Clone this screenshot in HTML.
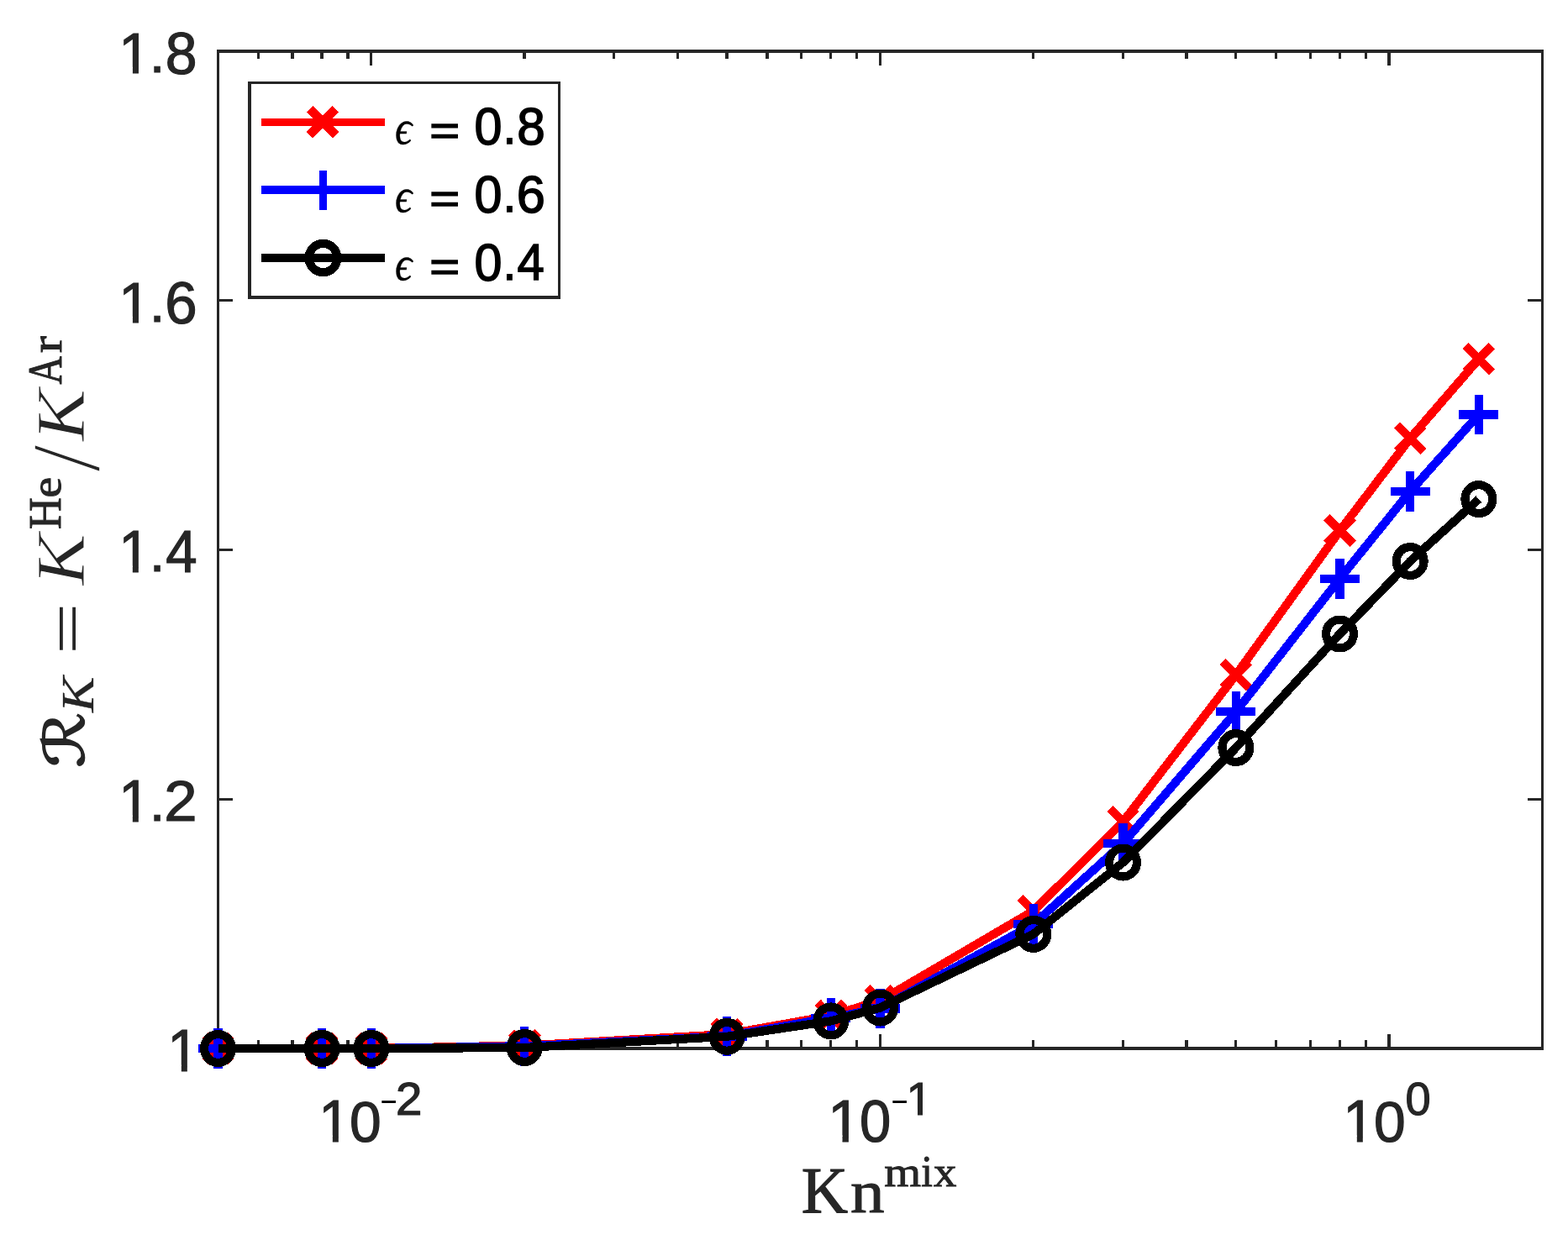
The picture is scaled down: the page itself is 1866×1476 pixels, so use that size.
<!DOCTYPE html>
<html lang="en">
<head>
<meta charset="utf-8">
<title>Permeability ratio vs Knudsen number</title>
<style>
html,body{margin:0;padding:0;background:#ffffff;}
body{width:1866px;height:1476px;overflow:hidden;}
svg{display:block;}
</style>
</head>
<body>
<svg width="1866" height="1476" viewBox="0 0 1866 1476">
<rect x="0" y="0" width="1866" height="1476" fill="#ffffff"/>
<defs><clipPath id="c0"><path d="M135.25 17.99H164.96V89.55H157.92V79.63H135.25Z"/><rect x="181.5" y="75.0" width="12.0" height="16.0"/><rect x="197.5" y="34.8" width="37.1" height="58.2"/></clipPath><clipPath id="c1"><path d="M135.25 314.99H164.96V386.55H157.92V376.63H135.25Z"/><rect x="181.5" y="372.0" width="12.0" height="16.0"/><rect x="197.5" y="331.8" width="37.1" height="58.2"/></clipPath><clipPath id="c2"><path d="M135.21 610.54H164.82V683.55H157.84V673.52H135.21Z"/><rect x="181.5" y="669.0" width="12.0" height="16.0"/><rect x="196.5" y="628.0" width="39.1" height="57.0"/></clipPath><clipPath id="c3"><path d="M135.21 907.54H164.82V980.55H157.84V970.52H135.21Z"/><rect x="181.5" y="966.0" width="12.0" height="16.0"/><rect x="196.5" y="924.9" width="38.1" height="57.1"/></clipPath><clipPath id="c4"><path d="M193.21 1204.54H222.82V1277.55H215.84V1267.52H193.21Z"/></clipPath><clipPath id="c5"><path d="M373.21 1288.54H402.82V1361.55H395.84V1351.52H373.21Z"/><rect x="416.5" y="1306.0" width="38.0" height="58.0"/><rect x="452.5" y="1306.0" width="21.0" height="11.0"/><rect x="471.5" y="1284.0" width="31.1" height="47.0"/></clipPath><clipPath id="c6"><path d="M979.00 1288.54H1009.89V1361.55H1002.53V1351.52H979.00Z"/><rect x="1023.5" y="1306.0" width="37.1" height="58.0"/><rect x="1060.5" y="1306.0" width="21.0" height="11.0"/><path d="M1072.48 1271.06H1097.98V1329.55H1092.03V1320.60H1072.48Z"/></clipPath><clipPath id="c7"><path d="M1592.21 1288.54H1621.82V1361.55H1614.84V1351.52H1592.21Z"/><rect x="1635.5" y="1306.0" width="38.0" height="58.0"/><rect x="1672.5" y="1284.0" width="31.1" height="48.0"/></clipPath></defs>
<path d="M258 59H261V1250H258ZM1834 59H1837V1250H1834ZM258 59H1837V63H258ZM258 1246H1837V1250H258ZM306 1238H309V1248H306ZM306 61H309V70H306ZM346 1238H350V1248H346ZM346 61H350V70H346ZM381 1238H385V1248H381ZM381 61H385V70H381ZM412 1238H416V1248H412ZM412 61H416V70H412ZM440 1231H443V1248H440ZM440 61H443V78H440ZM622 1238H626V1248H622ZM622 61H626V70H622ZM729 1238H732V1248H729ZM729 61H732V70H729ZM805 1238H808V1248H805ZM805 61H808V70H805ZM863 1238H867V1248H863ZM863 61H867V70H863ZM911 1238H915V1248H911ZM911 61H915V70H911ZM952 1238H955V1248H952ZM952 61H955V70H952ZM987 1238H990V1248H987ZM987 61H990V70H987ZM1018 1238H1021V1248H1018ZM1018 61H1021V70H1018ZM1046 1231H1049V1248H1046ZM1046 61H1049V78H1046ZM1228 1238H1231V1248H1228ZM1228 61H1231V70H1228ZM1335 1238H1338V1248H1335ZM1335 61H1338V70H1335ZM1410 1238H1414V1248H1410ZM1410 61H1414V70H1410ZM1469 1238H1472V1248H1469ZM1469 61H1472V70H1469ZM1517 1238H1520V1248H1517ZM1517 61H1520V70H1517ZM1558 1238H1561V1248H1558ZM1558 61H1561V70H1558ZM1593 1238H1596V1248H1593ZM1593 61H1596V70H1593ZM1624 1238H1627V1248H1624ZM1624 61H1627V70H1624ZM1651 1231H1655V1248H1651ZM1651 61H1655V78H1651ZM259 950H277V953H259ZM1818 950H1836V953H1818ZM259 653H277V656H259ZM1818 653H1836V656H1818ZM259 356H277V359H259ZM1818 356H1836V359H1818Z" fill="#262626" shape-rendering="crispEdges"/>
<text clip-path="url(#c0)" font-family="'Liberation Sans', sans-serif" fill="#262626"><tspan x="141.25" y="86.55" font-size="68.56" textLength="37.99" lengthAdjust="spacingAndGlyphs" stroke="#262626" stroke-width="1.2">1</tspan><tspan x="178.00" y="86.02" font-size="62.47" textLength="18.13" lengthAdjust="spacingAndGlyphs" stroke="#262626" stroke-width="1.2">.</tspan><tspan x="196.77" y="88.00" font-size="70.18" textLength="37.78" lengthAdjust="spacingAndGlyphs" stroke="#262626" stroke-width="1.2">8</tspan></text>
<text clip-path="url(#c1)" font-family="'Liberation Sans', sans-serif" fill="#262626"><tspan x="141.25" y="383.55" font-size="68.56" textLength="37.99" lengthAdjust="spacingAndGlyphs" stroke="#262626" stroke-width="1.2">1</tspan><tspan x="178.00" y="383.02" font-size="62.47" textLength="18.13" lengthAdjust="spacingAndGlyphs" stroke="#262626" stroke-width="1.2">.</tspan><tspan x="196.13" y="385.00" font-size="69.93" textLength="38.40" lengthAdjust="spacingAndGlyphs" stroke="#262626" stroke-width="1.2">6</tspan></text>
<text clip-path="url(#c2)" font-family="'Liberation Sans', sans-serif" fill="#262626"><tspan x="141.21" y="680.55" font-size="70.01" textLength="37.85" lengthAdjust="spacingAndGlyphs" stroke="#262626" stroke-width="1.2">1</tspan><tspan x="178.00" y="680.02" font-size="62.47" textLength="18.13" lengthAdjust="spacingAndGlyphs" stroke="#262626" stroke-width="1.2">.</tspan><tspan x="197.16" y="680.61" font-size="70.16" textLength="37.36" lengthAdjust="spacingAndGlyphs" stroke="#262626" stroke-width="1.2">4</tspan></text>
<text clip-path="url(#c3)" font-family="'Liberation Sans', sans-serif" fill="#262626"><tspan x="141.21" y="977.55" font-size="70.01" textLength="37.85" lengthAdjust="spacingAndGlyphs" stroke="#262626" stroke-width="1.2">1</tspan><tspan x="178.00" y="977.02" font-size="62.47" textLength="18.13" lengthAdjust="spacingAndGlyphs" stroke="#262626" stroke-width="1.2">.</tspan><tspan x="195.15" y="977.04" font-size="69.22" textLength="39.31" lengthAdjust="spacingAndGlyphs" stroke="#262626" stroke-width="1.2">2</tspan></text>
<text clip-path="url(#c4)" font-family="'Liberation Sans', sans-serif" fill="#262626"><tspan x="199.21" y="1274.55" font-size="70.01" textLength="37.85" lengthAdjust="spacingAndGlyphs" stroke="#262626" stroke-width="1.2">1</tspan></text>
<text clip-path="url(#c5)" font-family="'Liberation Sans', sans-serif" fill="#262626"><tspan x="379.21" y="1358.55" font-size="70.01" textLength="37.85" lengthAdjust="spacingAndGlyphs" stroke="#262626" stroke-width="1.2">1</tspan><tspan x="416.00" y="1359.00" font-size="69.33" textLength="37.70" lengthAdjust="spacingAndGlyphs" stroke="#262626" stroke-width="1.2">0</tspan><tspan x="451.32" y="1321.00" font-size="37.50" textLength="22.77" lengthAdjust="spacingAndGlyphs" fill="#000000">-</tspan><tspan x="471.00" y="1326.59" font-size="54.61" textLength="31.35" lengthAdjust="spacingAndGlyphs" stroke="#262626" stroke-width="1.2">2</tspan></text>
<text clip-path="url(#c6)" font-family="'Liberation Sans', sans-serif" fill="#262626"><tspan x="985.00" y="1358.55" font-size="70.01" textLength="39.90" lengthAdjust="spacingAndGlyphs" stroke="#262626" stroke-width="1.2">1</tspan><tspan x="1023.00" y="1359.00" font-size="70.06" textLength="37.27" lengthAdjust="spacingAndGlyphs" stroke="#262626" stroke-width="1.2">0</tspan><tspan x="1059.32" y="1321.00" font-size="37.50" textLength="22.77" lengthAdjust="spacingAndGlyphs" fill="#000000">-</tspan><tspan x="1078.48" y="1326.55" font-size="55.49" textLength="31.09" lengthAdjust="spacingAndGlyphs" stroke="#262626" stroke-width="1.2">1</tspan></text>
<text clip-path="url(#c7)" font-family="'Liberation Sans', sans-serif" fill="#262626"><tspan x="1598.21" y="1358.55" font-size="70.01" textLength="37.85" lengthAdjust="spacingAndGlyphs" stroke="#262626" stroke-width="1.2">1</tspan><tspan x="1635.00" y="1359.00" font-size="69.33" textLength="37.70" lengthAdjust="spacingAndGlyphs" stroke="#262626" stroke-width="1.2">0</tspan><tspan x="1672.44" y="1327.00" font-size="55.23" textLength="30.16" lengthAdjust="spacingAndGlyphs" stroke="#262626" stroke-width="1.2">0</tspan></text>
<text font-family="'Liberation Serif', serif" fill="#262626"><tspan x="953.77" y="1443.02" font-size="78.47" textLength="55.30" lengthAdjust="spacingAndGlyphs" stroke="#262626" stroke-width="1.2">K</tspan><tspan x="1012.04" y="1443.35" font-size="72.87" textLength="40.56" lengthAdjust="spacingAndGlyphs" stroke="#262626" stroke-width="1.0">n</tspan><tspan x="1052.28" y="1412.04" font-size="50.90" textLength="43.94" lengthAdjust="spacingAndGlyphs" stroke="#262626" stroke-width="0.9">m</tspan><tspan x="1096.36" y="1412.04" font-size="53.16" textLength="13.71" lengthAdjust="spacingAndGlyphs" stroke="#262626" stroke-width="0.9">i</tspan><tspan x="1110.90" y="1412.10" font-size="51.46" textLength="27.37" lengthAdjust="spacingAndGlyphs" stroke="#262626" stroke-width="0.9">x</tspan></text>
<text transform="rotate(-90)" font-family="'Liberation Serif', serif" fill="#262626"><tspan x="-913.56" y="99.55" font-size="66.56" textLength="65.81" lengthAdjust="spacingAndGlyphs" font-family="'DejaVu Sans', sans-serif" stroke="#262626" stroke-width="1.6">ℛ</tspan><tspan x="-848.00" y="110.61" font-size="55.95" textLength="42.45" lengthAdjust="spacingAndGlyphs" font-style="italic" stroke="#262626" stroke-width="0.3">K</tspan> <tspan x="-779.35" y="106.40" font-size="76.00" textLength="61.94" lengthAdjust="spacingAndGlyphs">=</tspan> <tspan x="-697.09" y="100.12" font-size="83.33" textLength="61.82" lengthAdjust="spacingAndGlyphs" font-style="italic" stroke="#ffffff" stroke-width="1.0" stroke-linejoin="round">K</tspan><tspan x="-630.10" y="71.95" font-size="54.45" textLength="37.89" lengthAdjust="spacingAndGlyphs" stroke="#262626" stroke-width="1.0">H</tspan><tspan x="-592.45" y="72.40" font-size="51.12" textLength="24.71" lengthAdjust="spacingAndGlyphs" stroke="#262626" stroke-width="1.0">e</tspan><tspan x="-561.71" y="117.85" font-size="115.48" textLength="32.64" lengthAdjust="spacingAndGlyphs" stroke="#ffffff" stroke-width="1.6" stroke-linejoin="round">/</tspan><tspan x="-525.18" y="100.47" font-size="83.51" textLength="62.11" lengthAdjust="spacingAndGlyphs" font-style="italic" stroke="#ffffff" stroke-width="1.0" stroke-linejoin="round">K</tspan><tspan x="-457.52" y="72.72" font-size="56.79" textLength="33.34" lengthAdjust="spacingAndGlyphs" stroke="#262626" stroke-width="1.0">A</tspan><tspan x="-420.05" y="72.77" font-size="51.81" textLength="19.89" lengthAdjust="spacingAndGlyphs" stroke="#262626" stroke-width="1.0">r</tspan></text>
<g fill="none" stroke-width="10.2" stroke-linecap="butt" stroke-linejoin="round" shape-rendering="crispEdges">
<polyline points="259.5,1248.0 383.1,1248.0 441.8,1248.0 624.2,1244.6 865.2,1231.1 988.8,1209.0 1047.5,1191.1 1229.8,1084.3 1336.5,978.1 1470.8,803.4 1594.5,631.7 1678.2,521.8 1759.8,427.4" stroke="#ff0000"/>
<path d="M243.8 1232.3L275.2 1263.7M243.8 1263.7L275.2 1232.3M367.4 1232.3L398.8 1263.7M367.4 1263.7L398.8 1232.3M426.1 1232.3L457.5 1263.7M426.1 1263.7L457.5 1232.3M608.5 1228.9L639.9 1260.3M608.5 1260.3L639.9 1228.9M849.5 1215.4L880.9 1246.8M849.5 1246.8L880.9 1215.4M973.1 1193.3L1004.5 1224.7M973.1 1224.7L1004.5 1193.3M1031.8 1175.4L1063.2 1206.8M1031.8 1206.8L1063.2 1175.4M1214.1 1068.6L1245.5 1100.0M1214.1 1100.0L1245.5 1068.6M1320.8 962.4L1352.2 993.8M1320.8 993.8L1352.2 962.4M1455.1 787.7L1486.5 819.1M1455.1 819.1L1486.5 787.7M1578.8 616.0L1610.2 647.4M1578.8 647.4L1610.2 616.0M1662.5 506.1L1693.9 537.5M1662.5 537.5L1693.9 506.1M1744.1 411.7L1775.5 443.1M1744.1 443.1L1775.5 411.7" stroke="#ff0000"/>
<polyline points="259.5,1248.0 383.1,1248.0 441.8,1248.0 624.2,1245.5 865.2,1233.4 988.8,1211.7 1047.5,1200.4 1229.8,1100.2 1336.5,1003.9 1470.8,847.2 1594.5,688.6 1678.2,584.9 1759.8,493.4" stroke="#0000ff"/>
<path d="M236.0 1248.0H283.0M259.5 1224.1V1271.9M359.6 1248.0H406.6M383.1 1224.1V1271.9M418.3 1248.0H465.3M441.8 1224.1V1271.9M600.7 1245.5H647.7M624.2 1221.6V1269.4M841.7 1233.4H888.7M865.2 1209.5V1257.3M965.3 1211.7H1012.3M988.8 1187.8V1235.6M1024.0 1200.4H1071.0M1047.5 1176.5V1224.3M1206.3 1100.2H1253.3M1229.8 1076.3V1124.1M1313.0 1003.9H1360.0M1336.5 980.0V1027.8M1447.3 847.2H1494.3M1470.8 823.3V871.1M1571.0 688.6H1618.0M1594.5 664.7V712.5M1654.7 584.9H1701.7M1678.2 561.0V608.8M1736.3 493.4H1783.3M1759.8 469.5V517.3" stroke="#0000ff" stroke-width="10.2"/>
<polyline points="259.5,1248.0 383.1,1248.0 441.8,1248.0 624.2,1247.0 865.2,1233.8 988.8,1215.4 1047.5,1199.5 1229.8,1111.9 1336.5,1026.5 1470.8,890.0 1594.5,754.5 1678.2,668.0 1759.8,594.1" stroke="#000000"/>
<g stroke="#000000" stroke-width="10.2">
<ellipse cx="259.5" cy="1248.0" rx="16.4" ry="16.9"/>
<ellipse cx="383.1" cy="1248.0" rx="16.4" ry="16.9"/>
<ellipse cx="441.8" cy="1248.0" rx="16.4" ry="16.9"/>
<ellipse cx="624.2" cy="1247.0" rx="16.4" ry="16.9"/>
<ellipse cx="865.2" cy="1233.8" rx="16.4" ry="16.9"/>
<ellipse cx="988.8" cy="1215.4" rx="16.4" ry="16.9"/>
<ellipse cx="1047.5" cy="1199.5" rx="16.4" ry="16.9"/>
<ellipse cx="1229.8" cy="1111.9" rx="16.4" ry="16.9"/>
<ellipse cx="1336.5" cy="1026.5" rx="16.4" ry="16.9"/>
<ellipse cx="1470.8" cy="890.0" rx="16.4" ry="16.9"/>
<ellipse cx="1594.5" cy="754.5" rx="16.4" ry="16.9"/>
<ellipse cx="1678.2" cy="668.0" rx="16.4" ry="16.9"/>
<ellipse cx="1759.8" cy="594.1" rx="16.4" ry="16.9"/>
</g></g>
<rect x="297" y="98" width="368" height="256" fill="#ffffff"/>
<path d="M295 97H299V356H295ZM664 97H667V356H664ZM295 97H667V100H295ZM295 352H667V356H295Z" fill="#262626" shape-rendering="crispEdges"/>
<g fill="none" stroke-linecap="butt" shape-rendering="crispEdges">
<path d="M311 145.5H458" stroke="#ff0000" stroke-width="9"/>
<path d="M368.5 129.6L399.5 160.6M368.5 160.6L399.5 129.6" stroke="#ff0000" stroke-width="10.4"/>
<path d="M311 226H458" stroke="#0000ff" stroke-width="10"/>
<path d="M384.5 203V250" stroke="#0000ff" stroke-width="9"/>
<path d="M311 307H458" stroke="#000000" stroke-width="10"/>
<ellipse cx="384.5" cy="307" rx="16.9" ry="17.2" stroke="#000000" stroke-width="10.2"/>
</g>
<text font-family="'Liberation Sans', sans-serif" fill="#000000"><tspan x="470.00" y="171.13" font-size="56.83" textLength="20.24" lengthAdjust="spacingAndGlyphs" font-family="'Liberation Serif', serif" font-style="italic" stroke="#000000" stroke-width="0.4">ϵ</tspan> <tspan x="511.16" y="172.00" font-size="50.23" textLength="35.85" lengthAdjust="spacingAndGlyphs" stroke="#000000" stroke-width="1.5">=</tspan> <tspan x="564.42" y="171.56" font-size="62.34" textLength="32.96" lengthAdjust="spacingAndGlyphs" stroke="#000000" stroke-width="1.5">0</tspan><tspan x="598.52" y="171.00" font-size="59.53" textLength="15.83" lengthAdjust="spacingAndGlyphs" stroke="#000000" stroke-width="1.5">.</tspan><tspan x="615.15" y="171.53" font-size="62.04" textLength="33.54" lengthAdjust="spacingAndGlyphs" stroke="#000000" stroke-width="1.5">8</tspan></text>
<text font-family="'Liberation Sans', sans-serif" fill="#000000"><tspan x="470.00" y="252.13" font-size="56.83" textLength="20.24" lengthAdjust="spacingAndGlyphs" font-family="'Liberation Serif', serif" font-style="italic" stroke="#000000" stroke-width="0.4">ϵ</tspan> <tspan x="511.16" y="253.00" font-size="50.23" textLength="35.85" lengthAdjust="spacingAndGlyphs" stroke="#000000" stroke-width="1.5">=</tspan> <tspan x="564.42" y="252.56" font-size="62.34" textLength="32.96" lengthAdjust="spacingAndGlyphs" stroke="#000000" stroke-width="1.5">0</tspan><tspan x="598.52" y="252.00" font-size="59.53" textLength="15.83" lengthAdjust="spacingAndGlyphs" stroke="#000000" stroke-width="1.5">.</tspan><tspan x="614.73" y="252.96" font-size="62.09" textLength="34.14" lengthAdjust="spacingAndGlyphs" stroke="#000000" stroke-width="1.5">6</tspan></text>
<text font-family="'Liberation Sans', sans-serif" fill="#000000"><tspan x="470.00" y="333.13" font-size="56.83" textLength="20.24" lengthAdjust="spacingAndGlyphs" font-family="'Liberation Serif', serif" font-style="italic" stroke="#000000" stroke-width="0.4">ϵ</tspan> <tspan x="511.16" y="334.00" font-size="50.23" textLength="35.85" lengthAdjust="spacingAndGlyphs" stroke="#000000" stroke-width="1.5">=</tspan> <tspan x="564.42" y="333.56" font-size="62.34" textLength="32.96" lengthAdjust="spacingAndGlyphs" stroke="#000000" stroke-width="1.5">0</tspan><tspan x="598.52" y="333.00" font-size="59.53" textLength="15.83" lengthAdjust="spacingAndGlyphs" stroke="#000000" stroke-width="1.5">.</tspan><tspan x="615.45" y="333.00" font-size="61.31" textLength="32.25" lengthAdjust="spacingAndGlyphs" stroke="#000000" stroke-width="1.5">4</tspan></text>
</svg>
</body>
</html>
